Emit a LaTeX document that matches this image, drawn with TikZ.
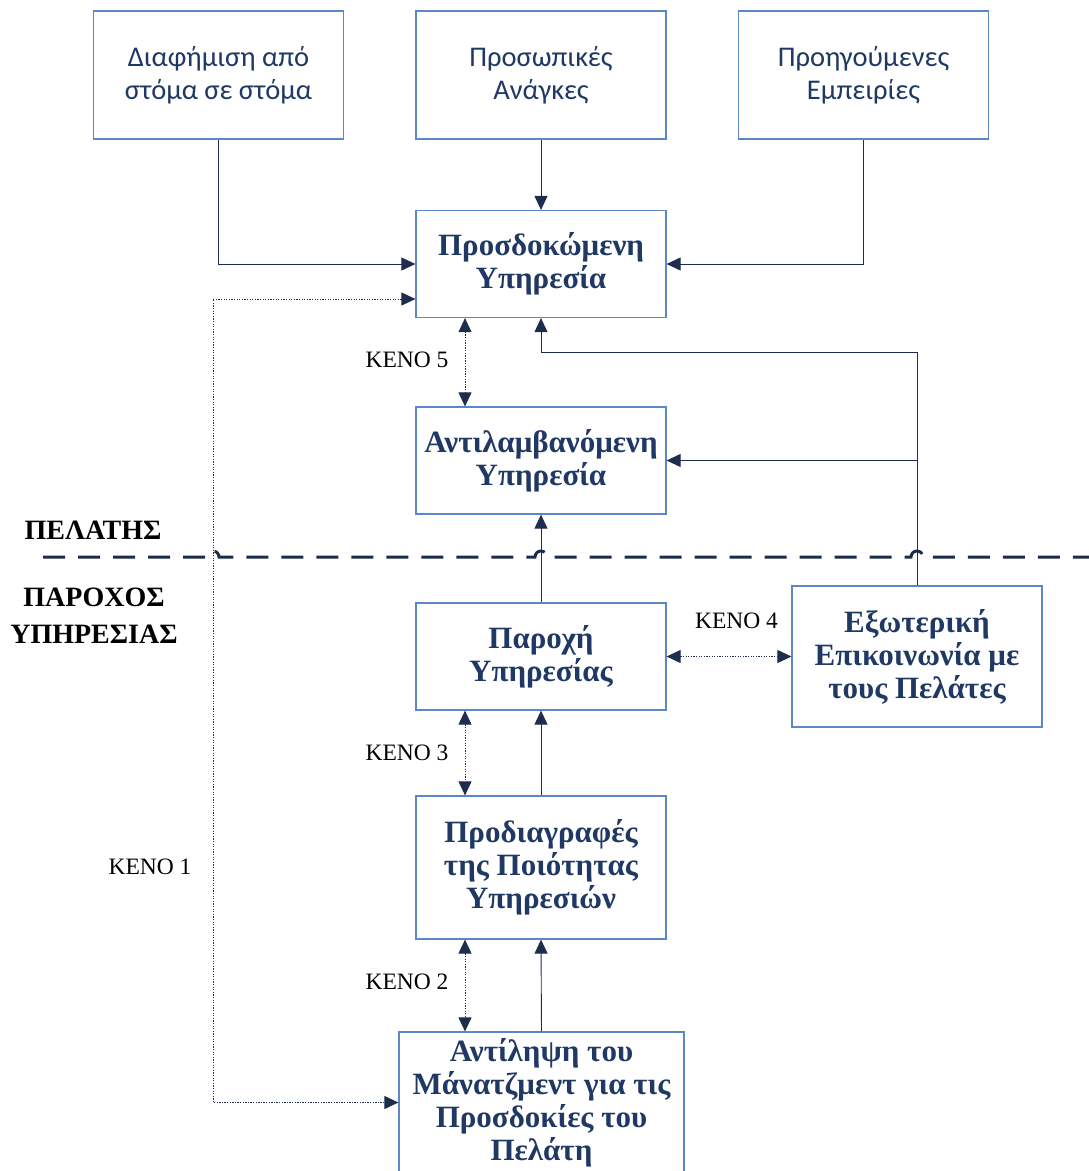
\documentclass[tikz,border=0pt]{standalone}
\usepackage{fontspec}
\setmainfont{Liberation Serif}
\newfontfamily\boxsans{Carlito}
\usetikzlibrary{arrows.meta}

\definecolor{boxline}{HTML}{5B87C7}
\definecolor{boxtext}{HTML}{1F3864}
\definecolor{conn}{HTML}{1E2D4D}
\definecolor{sepcol}{HTML}{1C2B48}

\begin{document}
\begin{tikzpicture}[x=1pt,y=-1pt,
  box/.style={draw=boxline, line width=1.2pt, minimum width=250pt, minimum height=107pt,
    align=center, text=boxtext, inner sep=2pt},
  plainbox/.style={box, minimum height=128pt, font=\boxsans\fontsize{28.5}{33}\selectfont},
  strongbox/.style={box, font=\bfseries\fontsize{31}{33}\selectfont},
  tip/.tip={Triangle[length=14pt,width=13pt]},
  arr/.style={draw=conn, line width=0.9pt, -tip},
  darr/.style={draw=conn, line width=0.9pt, dash pattern=on 1.3pt off 1.3pt, tip-tip},
  gaplabel/.style={font=\fontsize{23.5}{26}\selectfont, text=black, inner sep=0pt},
  sidelabel/.style={font=\bfseries\fontsize{28}{37}\selectfont, align=center, text=black, inner sep=0pt},
  sep/.style={draw=sepcol, line width=3pt, dash pattern=on 22pt off 13pt}
]
\useasboundingbox (0,0) rectangle (1089,1171);
\clip (0,0) rectangle (1089,1171);

% influences on the expected service
\node[plainbox] (A) at (218.5,75) {Διαφήμιση από\\στόμα σε στόμα};
\node[plainbox] (B) at (541,75) {Προσωπικές\\Ανάγκες};
\node[plainbox] (C) at (863.5,75) {Προηγούμενες\\Εμπειρίες};

% main chain
\node[strongbox] (D) at (541,264) {Προσδοκώμενη\\Υπηρεσία};
\node[strongbox] (E) at (541,460.5) {Αντιλαμβανόμενη\\Υπηρεσία};
\node[strongbox] (F) at (541,656.5) {Παροχή\\Υπηρεσίας};
\node[strongbox, minimum height=141pt] (G) at (917,656.5) {Εξωτερική\\Επικοινωνία με\\τους Πελάτες};
\node[strongbox, minimum height=143pt] (H) at (541,867.5) {Προδιαγραφές\\της Ποιότητας\\Υπηρεσιών};
\node[strongbox, minimum width=285pt, minimum height=141pt] (I) at (541.5,1102.5)
  {Αντίληψη του\\Μάνατζμεντ για τις\\Προσδοκίες του\\Πελάτη};

% side labels
\node[sidelabel] (cust) at (93,530) {ΠΕΛΑΤΗΣ};
\node[sidelabel] (prov) at (94,615.5) {ΠΑΡΟΧΟΣ\\ΥΠΗΡΕΣΙΑΣ};

% gap labels
\node[gaplabel] (k5) at (407,360) {ΚΕΝΟ 5};
\node[gaplabel] (k4) at (736.5,621) {ΚΕΝΟ 4};
\node[gaplabel] (k3) at (407,753) {ΚΕΝΟ 3};
\node[gaplabel] (k2) at (407,982) {ΚΕΝΟ 2};
\node[gaplabel] (k1) at (150,867) {ΚΕΝΟ 1};

% customer / provider boundary, hopping over crossing lines
\draw[sep] (43,557) -- (207,557) arc[start angle=180,end angle=0,radius=6pt]
  -- (535,557) arc[start angle=180,end angle=0,radius=6pt]
  -- (911,557) arc[start angle=180,end angle=0,radius=6pt]
  -- (1095,557);

% solid connectors
\draw[arr] (A.south) |- (D.west);
\draw[arr] (B.south) -- (D.north);
\draw[arr] (C.south) |- (D.east);
\coordinate (gbend) at (541,352);
\draw[arr] (G.north) |- (gbend) -- (D.south);
\draw[arr] (G.north |- E.east) -- (E.east);
\draw[arr] (F.north) -- (E.south);
\draw[arr] (H.north) -- (F.south);
\draw[arr] (I.north) -- (H.south);

% gaps
\draw[darr] ([xshift=-76pt]D.south) -- ([xshift=-76pt]E.north);
\draw[darr] (F.east) -- (F.east -| G.west);
\draw[darr] ([xshift=-76pt]F.south) -- ([xshift=-76pt]H.north);
\draw[darr] ([xshift=-76pt]H.south) -- ([xshift=-76pt]H.south |- I.north);
\coordinate (k1line) at (213,700);
\draw[darr] ([yshift=-35pt]D.west) -| (k1line) |- (I.west);
\end{tikzpicture}
\end{document}
